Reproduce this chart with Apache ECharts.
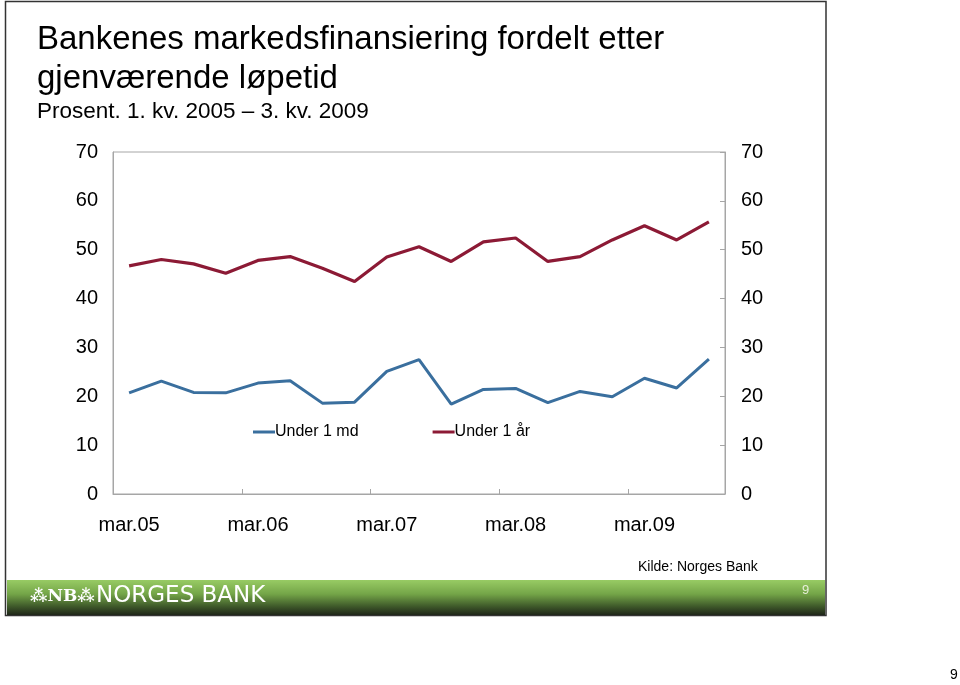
<!DOCTYPE html>
<html>
<head>
<meta charset="utf-8">
<script src="https://cdn.jsdelivr.net/npm/echarts@6/dist/echarts.min.js"></script>
<style>html,body{margin:0;padding:0;background:#fff;}#c{width:960px;height:685px;}</style>
</head>
<body>
<div id="c"></div>
<script>
var categories = ["mar.05","jun.05","sep.05","des.05","mar.06","jun.06","sep.06","des.06","mar.07","jun.07","sep.07","des.07","mar.08","jun.08","sep.08","des.08","mar.09","jun.09","sep.09"];
var under1md = [20.7,23.1,20.8,20.7,22.7,23.2,18.6,18.8,25.1,27.5,18.4,21.4,21.6,18.7,21.0,19.9,23.7,21.7,27.6];
var under1aar = [46.7,48.0,47.1,45.2,47.8,48.6,46.2,43.5,48.5,50.6,47.6,51.6,52.4,47.6,48.6,52.0,54.9,52.0,55.7];
var seriesNames = ["Under 1 md","Under 1 år"];
var yTicks = {min:0, max:70, interval:10};

var FONT = '"Liberation Sans", Arial, sans-serif';
var chart = echarts.init(document.getElementById('c'), null, {renderer:'canvas'});
var axisGray = '#a6a6a6';
chart.setOption({
  backgroundColor:'#fff',
  animation:false,
  grid:{left:113, right:235, top:152, bottom:191, show:true, borderColor:axisGray, borderWidth:1, backgroundColor:'transparent'},
  legend:{
    data:seriesNames, left:248, top:419, orient:'horizontal', itemGap:74,
    icon:'rect', itemWidth:22, itemHeight:3,
    textStyle:{fontFamily:FONT, fontSize:16, color:'#000', padding:[0,0,0,-5]}
  },
  xAxis:{
    type:'category', data:categories, boundaryGap:true,
    axisLine:{show:true, lineStyle:{color:axisGray, width:1}},
    axisTick:{show:true, inside:true, length:5, interval:3, lineStyle:{color:axisGray}},
    axisLabel:{interval:3, fontFamily:FONT, fontSize:20, color:'#000', margin:21}
  },
  yAxis:[
    {type:'value', min:yTicks.min, max:yTicks.max, interval:yTicks.interval, position:'left',
     axisLine:{show:true, lineStyle:{color:axisGray}}, axisTick:{show:false},
     splitLine:{show:false},
     axisLabel:{fontFamily:FONT, fontSize:20, color:'#000', margin:15}},
    {type:'value', min:yTicks.min, max:yTicks.max, interval:yTicks.interval, position:'right',
     axisLine:{show:true, lineStyle:{color:axisGray}}, axisTick:{show:true, inside:true, length:5, lineStyle:{color:axisGray}},
     splitLine:{show:false},
     axisLabel:{fontFamily:FONT, fontSize:20, color:'#000', margin:16}}
  ],
  series:[
    {name:seriesNames[0], type:'line', data:under1md, showSymbol:false, symbol:'none',
     lineStyle:{color:'#3A6F9E', width:3}, itemStyle:{color:'#3A6F9E'}},
    {name:seriesNames[1], type:'line', data:under1aar, showSymbol:false, symbol:'none',
     lineStyle:{color:'#8C1A35', width:3.2}, itemStyle:{color:'#8C1A35'}}
  ],
  graphic:[
    {type:'rect', shape:{x:5.5, y:1.5, width:820.5, height:614}, style:{fill:'none', stroke:'#333', lineWidth:1.5}, z:-1},
    {type:'rect', shape:{x:7, y:580, width:818, height:35},
     style:{fill:new echarts.graphic.LinearGradient(0,0,0,1,[{offset:0,color:'#98cb64'},{offset:0.4,color:'#74a548'},{offset:0.75,color:'#3f5a2a'},{offset:1,color:'#1f2619'}])}},
    {type:'text', left:37, top:23, style:{text:'Bankenes markedsfinansiering fordelt etter', font:'33px ' + FONT, fill:'#000'}},
    {type:'text', left:37, top:62, style:{text:'gjenværende løpetid', font:'33px ' + FONT, fill:'#000'}},
    {type:'text', left:37, top:100, style:{text:'Prosent. 1. kv. 2005 – 3. kv. 2009', font:'22.5px ' + FONT, fill:'#000'}},
    {type:'text', left:638, top:560, style:{text:'Kilde: Norges Bank', font:'14px ' + FONT, fill:'#000'}},
    {type:'text', left:30, top:588, style:{text:'\u2042NB\u2042', font:'bold 17px "DejaVu Serif", serif', fill:'#fff'}},
    {type:'text', left:96, top:585, style:{text:'NORGES BANK', font:'23px "DejaVu Sans", sans-serif', fill:'#fff'}},
    {type:'text', left:802, top:584, style:{text:'9', font:'13px ' + FONT, fill:'#e6eed8'}},
    {type:'text', left:950, top:668, style:{text:'9', font:'14px ' + FONT, fill:'#000'}}
  ]
});
</script>
</body>
</html>
